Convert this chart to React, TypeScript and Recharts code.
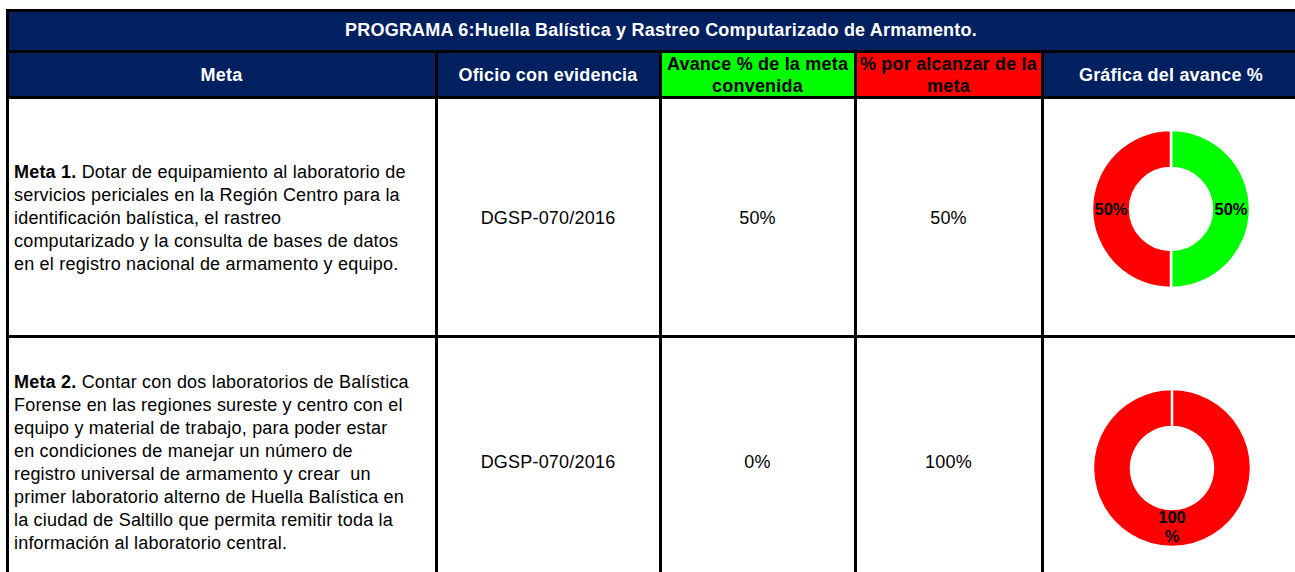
import React from "react";
import { PieChart, Pie, Cell } from "recharts";

const TITLE = "PROGRAMA 6:Huella Balística y Rastreo Computarizado de Armamento.";
const HEADERS = [["Meta"], ["Oficio con evidencia"], ["Avance % de la meta", "convenida"], ["% por alcanzar de la", "meta"], ["Gráfica del avance %"]];
const metaLabels = ["Meta 1.", "Meta 2."];
const metaLines = [
  [" Dotar de equipamiento al laboratorio de", "servicios periciales en la Región Centro para la", "identificación balística, el rastreo", "computarizado y la consulta de bases de datos", "en el registro nacional de armamento y equipo."],
  [" Contar con dos laboratorios de Balística", "Forense en las regiones sureste y centro con el", "equipo y material de trabajo, para poder estar", "en condiciones de manejar un número de", "registro universal de armamento y crear  un", "primer laboratorio alterno de Huella Balística en", "la ciudad de Saltillo que permita remitir toda la", "información al laboratorio central."],
];
const oficios = ["DGSP-070/2016", "DGSP-070/2016"];
const avance = [50, 0];
const porAlcanzar = [50, 100];

const NAVY = "#002060";
const GREEN = "#00FF00";
const RED = "#FF0000";
const FONT = "'Liberation Sans', Arial, sans-serif";

const COLS = [7, 436, 660, 855, 1042, 1300];
const ROWS = [10, 51, 97, 336, 586];
const DONUTS = [{ cx: 1171, cy: 209 }, { cx: 1172, cy: 468 }];

const RAD = Math.PI / 180;
function renderLabel(p: any) {
  if (!p.value) return null;
  const r = (p.innerRadius + p.outerRadius) / 2;
  const x = p.cx + r * Math.cos(-p.midAngle * RAD);
  const y = p.cy + r * Math.sin(-p.midAngle * RAD);
  const style = { fontFamily: FONT, fontSize: 16.5, fontWeight: 700, fill: "#000" };
  if (p.value >= 100) {
    return (
      <text x={x} y={y} textAnchor="middle" style={style}>
        <tspan x={x} dy={-5}>{p.value}</tspan>
        <tspan x={x} dy={19}>%</tspan>
      </text>
    );
  }
  return <text x={x} y={y} dy={6} textAnchor="middle" style={style}>{p.value}%</text>;
}

function Donut({ i }: { i: number }) {
  const data = [
    { name: "Avance", value: avance[i], color: GREEN },
    { name: "Por alcanzar", value: porAlcanzar[i], color: RED },
  ];
  const { cx, cy } = DONUTS[i];
  return (
    <div style={{ position: "absolute", left: cx - 100, top: cy - 100 }}>
      <PieChart width={200} height={200}>
        <Pie data={data} dataKey="value" cx="50%" cy="50%" innerRadius={41} outerRadius={79} startAngle={90} endAngle={-270}
          stroke="#fff" strokeWidth={2.5} label={renderLabel} labelLine={false} isAnimationActive={false}>
          {data.map((d) => <Cell key={d.name} fill={d.color} />)}
        </Pie>
      </PieChart>
    </div>
  );
}

function box(x0: number, x1: number, y0: number, y1: number, extra: React.CSSProperties = {}): React.CSSProperties {
  return { position: "absolute", left: x0, top: y0, width: x1 - x0, height: y1 - y0, display: "flex", alignItems: "center", justifyContent: "center", textAlign: "center", boxSizing: "border-box", ...extra };
}

export default function App() {
  const headBg = [NAVY, NAVY, GREEN, RED, NAVY];
  const headFg = ["#fff", "#fff", "#000", "#000", "#fff"];
  const headText: React.CSSProperties = { fontWeight: 700, fontSize: 18, letterSpacing: 0.2 };
  const bodyText: React.CSSProperties = { fontSize: 18, letterSpacing: 0.2, paddingTop: 3 };
  return (
    <div style={{ position: "absolute", left: 0, top: 0, width: 1295, height: 572, overflow: "hidden", background: "#fff", fontFamily: FONT }}>
      <div style={box(COLS[0], COLS[5], ROWS[0], ROWS[1], { background: NAVY, color: "#fff", ...headText, paddingLeft: 15 })}>{TITLE}</div>
      {HEADERS.map((h, c) => (
        <div key={c} style={box(COLS[c], COLS[c + 1], ROWS[1], ROWS[2], { background: headBg[c], color: headFg[c], ...headText, flexDirection: "column", lineHeight: "22px", whiteSpace: "nowrap", paddingTop: 2 })}>
          {h.map((l) => <div key={l}>{l}</div>)}
        </div>
      ))}
      {metaLabels.map((m, r) => {
        const y0 = ROWS[r + 2], y1 = ROWS[r + 3];
        return (
          <React.Fragment key={m}>
            <div style={box(COLS[0], COLS[1], y0, y1, { justifyContent: "flex-start", textAlign: "left", paddingLeft: 7, lineHeight: "23px", ...bodyText })}>
              <div>
                {metaLines[r].map((l, k) => (
                  <div key={k} style={{ whiteSpace: "pre" }}>{k === 0 ? <b>{m}</b> : null}{l}</div>
                ))}
              </div>
            </div>
            <div style={box(COLS[1], COLS[2], y0, y1, bodyText)}>{oficios[r]}</div>
            <div style={box(COLS[2], COLS[3], y0, y1, bodyText)}>{avance[r]}%</div>
            <div style={box(COLS[3], COLS[4], y0, y1, bodyText)}>{porAlcanzar[r]}%</div>
          </React.Fragment>
        );
      })}
      {/* grid lines */}
      {ROWS.map((y, k) => (
        <div key={"h" + k} style={{ position: "absolute", left: COLS[0] - 1, top: y - 1, width: 1300, height: k === 3 ? 3 : 2.5, background: "#000" }} />
      ))}
      {COLS.map((x, k) => (
        <div key={"v" + k} style={{ position: "absolute", left: x - 1, top: k === 0 || k === 5 ? ROWS[0] : ROWS[1], width: 2.5, height: 600, background: "#000" }} />
      ))}
      <Donut i={0} />
      <Donut i={1} />
    </div>
  );
}
